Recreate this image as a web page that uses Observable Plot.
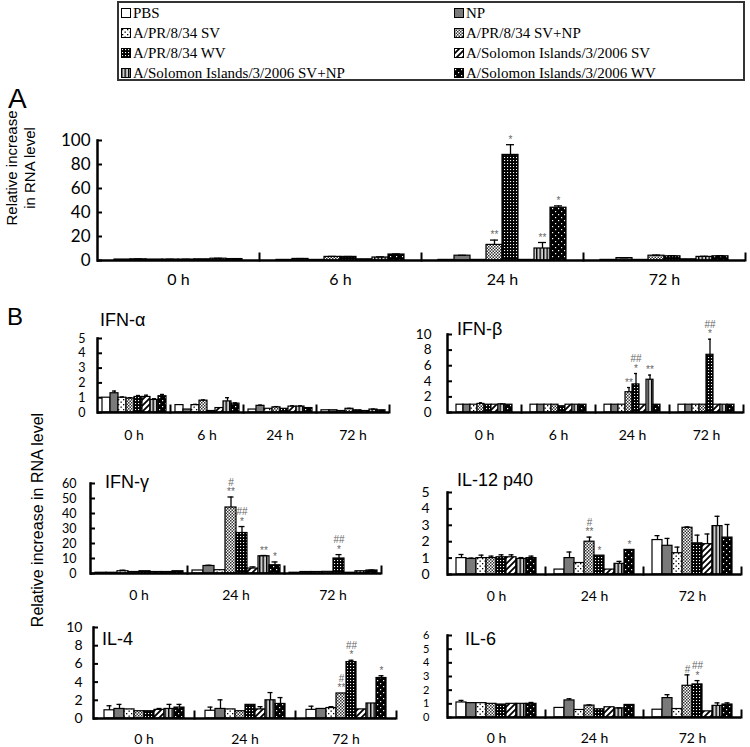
<!DOCTYPE html>
<html><head><meta charset="utf-8">
<script src="https://cdn.jsdelivr.net/npm/d3@7"></script>
<script src="https://cdn.jsdelivr.net/npm/@observablehq/plot@0.6"></script>
<style>
body{margin:0;background:#fff;}
#root{position:relative;width:750px;height:747px;overflow:hidden;font-family:"Liberation Sans",Arial,sans-serif;color:#000;}
.abs{position:absolute;line-height:1;white-space:nowrap;}
#legend{position:absolute;left:117px;top:1px;width:624px;height:76px;border:2px solid #333;font-family:"Liberation Serif","Times New Roman",serif;font-size:15px;}
.item{position:absolute;display:flex;align-items:center;height:20px;white-space:nowrap;}
.item svg{margin-right:2px;}
.rot{position:absolute;transform:translate(-50%,-50%) rotate(-90deg);text-align:center;white-space:nowrap;}
</style></head><body>
<svg width="0" height="0" style="position:absolute">
<defs>
<pattern id="p0" patternUnits="userSpaceOnUse" width="4" height="4"><rect width="4" height="4" fill="#fff"/></pattern>
<pattern id="p1" patternUnits="userSpaceOnUse" width="4" height="4"><rect width="4" height="4" fill="#7a7a7a"/></pattern>
<pattern id="p2" patternUnits="userSpaceOnUse" width="5" height="5"><rect width="5" height="5" fill="#fff"/><rect x="1" y="1" width="1.3" height="1.3" fill="#000"/><rect x="3.5" y="3.5" width="1.3" height="1.3" fill="#000"/></pattern>
<pattern id="p3" patternUnits="userSpaceOnUse" width="3" height="3"><rect width="3" height="3" fill="#fff"/><rect width="1.5" height="1.5" fill="#333"/><rect x="1.5" y="1.5" width="1.5" height="1.5" fill="#333"/></pattern>
<pattern id="p4" patternUnits="userSpaceOnUse" width="3" height="3"><rect width="3" height="3" fill="#000"/><rect x="1" y="1" width="1.1" height="1.1" fill="#fff"/></pattern>
<pattern id="p5" patternUnits="userSpaceOnUse" width="6" height="6"><rect width="6" height="6" fill="#fff"/><path d="M-1,7L7,-1M-1,1L1,-1M5,7L7,5" stroke="#000" stroke-width="1.8"/></pattern>
<pattern id="p6" patternUnits="userSpaceOnUse" width="3.5" height="4"><rect width="3.5" height="4" fill="#ccc"/><rect width="1.4" height="4" fill="#000"/></pattern>
<pattern id="p7" patternUnits="userSpaceOnUse" width="6" height="6"><rect width="6" height="6" fill="#000"/><rect x="1" y="1" width="1.2" height="1.2" fill="#fff"/><rect x="4" y="4" width="1.2" height="1.2" fill="#fff"/></pattern>
</defs></svg>
<div id="root"><div id="legend"></div></div>
<script>
// ---------- data ----------
const series = ["PBS","NP","A/PR/8/34 SV","A/PR/8/34 SV+NP","A/PR/8/34 WV",
  "A/Solomon Islands/3/2006 SV","A/Solomon Islands/3/2006 SV+NP","A/Solomon Islands/3/2006 WV"];
const patternFills = ["url(#p0)","url(#p1)","url(#p2)","url(#p3)","url(#p4)","url(#p5)","url(#p6)","url(#p7)"];

const times4 = ["0 h","6 h","24 h","72 h"];
const times3 = ["0 h","24 h","72 h"];

// Panel A
const aValues = [
  [0.8, 1, 0.8, 0.8, 0.8, 1, 1.5, 1.2],
  [0.5, 1.3, 0.5, 3, 3, 1, 2.5, 5],
  [0.5, 4, 0.5, 13, 88, 0.5, 10, 44],
  [0.5, 2, 0.5, 4, 3.5, 1, 3, 3.5]];
const aErrors = [
  [0, 0.2, 0, 0.2, 0.2, 0, 0.3, 0.2],
  [0, 0.3, 0, 0.4, 0.3, 0, 0.5, 0.4],
  [0, 0.3, 0, 4, 8.5, 0, 5, 1.5],
  [0, 0.3, 0, 0.5, 0.5, 0, 0.5, 0.5]];
const aMarks = [
  ["","","","","","","",""],["","","","","","","",""],
  ["","","","**","*","","**","*"],["","","","","","","",""]];
const aTicks = [0,20,40,60,80,100];

// IFN-α
const ifnaValues = [
  [1.0, 1.3, 1.0, 0.95, 1.05, 1.05, 0.85, 1.1],
  [0.5, 0.2, 0.5, 0.8, 0.1, 0.3, 0.75, 0.6],
  [0.2, 0.45, 0.25, 0.35, 0.25, 0.4, 0.4, 0.3],
  [0.15, 0.15, 0.1, 0.25, 0.15, 0.1, 0.2, 0.15]];
const ifnaErrors = [
  [0, 0.15, 0.05, 0.05, 0.1, 0.12, 0.08, 0.12],
  [0, 0, 0.05, 0.05, 0, 0, 0.25, 0.05],
  [0, 0.05, 0, 0.05, 0, 0.05, 0.05, 0],
  [0, 0, 0, 0.03, 0, 0, 0.03, 0]];
const ifnaTicks = [0,1,2,3,4,5];

// IFN-β
const ifnbValues = [
  [1, 1, 1, 1.1, 1, 1, 1.05, 1],
  [1, 1, 1, 1, 0.8, 1, 1, 1],
  [1, 1, 1, 2.6, 3.6, 1, 4.2, 1],
  [1, 1, 1, 1, 7.4, 1, 1, 1]];
const ifnbErrors = [
  [0, 0, 0, 0.15, 0, 0, 0.05, 0],
  [0, 0, 0, 0, 0, 0, 0, 0],
  [0, 0, 0, 0.6, 1.4, 0, 0.6, 0],
  [0, 0, 0, 0, 2, 0, 0, 0]];
const ifnbMarks = [
  ["","","","","","","",""],["","","","","","","",""],
  ["","","","**","##\n*","","**",""],["","","","","##\n*","","",""]];
const ifnbTicks = [0,2,4,6,8,10];

// IFN-γ
const ifngValues = [
  [0.5, 0.5, 1.5, 1, 1.5, 1, 1, 1.5],
  [2, 5, 2.2, 44, 27, 3.3, 11.5, 5.5],
  [0.5, 1, 1, 1.1, 10, 0.5, 1.5, 2]];
const ifngErrors = [
  [0, 0, 0.7, 0, 0, 0, 0, 0],
  [0, 0.5, 0, 7, 4.3, 1.1, 0.5, 2.2],
  [0, 0, 0, 0, 2.6, 0, 0, 0.3]];
const ifngMarks = [
  ["","","","","","","",""],
  ["","","","#\n**","##\n*","","**","*"],
  ["","","","","##\n*","","",""]];
const ifngTicks = [0,10,20,30,40,50,60];

// IL-12 p40
const il12Values = [
  [1.0, 0.95, 1.0, 1.0, 1.05, 1.05, 0.95, 1.0],
  [0.3, 1.0, 0.7, 2.0, 1.15, 0.3, 0.65, 1.5],
  [2.1, 1.75, 1.3, 2.85, 1.9, 1.85, 2.95, 2.25]];
const il12Errors = [
  [0.22, 0.05, 0.18, 0.12, 0.15, 0.15, 0.08, 0.12],
  [0, 0.37, 0, 0.28, 0, 0, 0.15, 0],
  [0.27, 0.45, 0.37, 0.05, 0.5, 0.62, 0.6, 0.8]];
const il12Marks = [
  ["","","","","","","",""],
  ["","","","#\n**","*","","","*"],
  ["","","","","","","",""]];
const il12Ticks = [0,1,2,3,4,5];

// IL-4
const il4Values = [
  [0.9, 1.05, 1.0, 0.8, 0.8, 0.95, 1.05, 1.2],
  [0.85, 1.05, 1.0, 0.8, 1.5, 1.0, 2.0, 1.6],
  [0.95, 1.05, 1.15, 2.75, 6.2, 1.0, 1.65, 4.45]];
const il4Errors = [
  [0.5, 0.5, 0, 0, 0, 0.15, 0.5, 0.35],
  [0.4, 1.0, 0, 0, 0, 0.3, 0.85, 0.7],
  [0.4, 0, 0.15, 0, 0.2, 0, 0, 0.25]];
const il4Marks = [
  ["","","","","","","",""],["","","","","","","",""],
  ["","","","#\n**","##\n*","","","*"]];
const il4Ticks = [0,2,4,6,8,10];

// IL-6
const il6Values = [
  [1.1, 1.05, 1.05, 1.0, 0.95, 1.0, 1.0, 1.0],
  [0.7, 1.25, 0.55, 0.87, 0.6, 0.75, 0.67, 0.92],
  [0.57, 1.42, 0.62, 2.32, 2.42, 0.45, 0.85, 0.95]];
const il6Errors = [
  [0.15, 0, 0, 0, 0, 0, 0, 0.1],
  [0, 0.12, 0, 0.05, 0, 0, 0.03, 0],
  [0, 0.25, 0, 0.8, 0.28, 0, 0.22, 0.12]];
const il6Marks = [
  ["","","","","","","",""],["","","","","","","",""],
  ["","","","#","##\n*","","",""]];
const il6Ticks = [0,1,2,3,4,5,6];

// ---------- drawing ----------
const root = document.getElementById("root");

function addText(txt, left, top, css) {
  const d = document.createElement("div");
  d.className = "abs";
  d.textContent = txt;
  d.style.left = left + "px"; d.style.top = top + "px";
  Object.assign(d.style, css || {});
  root.appendChild(d);
  return d;
}

function panel(cfg) {
  const data = [];
  cfg.times.forEach((t, ti) => series.forEach((s, si) => data.push({
    time: t, series: s, si, value: cfg.values[ti][si], err: cfg.errors[ti][si],
    mark: cfg.marks ? cfg.marks[ti][si] : ""
  })));
  const errData = data.filter(d => d.err > 0);
  const markData = data.filter(d => d.mark);
  const frameH = cfg.height - cfg.mT - cfg.mB;
  const chart = Plot.plot({
    width: cfg.width, height: cfg.height,
    marginLeft: cfg.mL, marginRight: cfg.mR, marginTop: cfg.mT, marginBottom: cfg.mB,
    style: {fontFamily: "Lato, sans-serif", fontSize: "14px", color: "#000", background: "transparent", overflow: "visible"},
    fx: {domain: cfg.times, padding: 0, label: null},
    x: {domain: series, paddingInner: 0, paddingOuter: cfg.padOuter, axis: null},
    y: {domain: [0, cfg.yMax]},
    color: {type: "identity"},
    marks: [
      Plot.barY(data, {fx: "time", x: "series", y: "value", fill: d => patternFills[d.si], stroke: "#000", strokeWidth: 1.2}),
      Plot.ruleX(errData, {fx: "time", x: "series", y1: "value", y2: d => d.value + d.err, stroke: "#000", strokeWidth: 1.3}),
      Plot.tickY(errData, {fx: "time", x: "series", y: d => d.value + d.err, stroke: "#000", strokeWidth: 1.3, insetLeft: cfg.cap, insetRight: cfg.cap}),
      Plot.text(markData, {fx: "time", x: "series", y: d => d.value + d.err, text: "mark", lineAnchor: "bottom", dy: -2, fontSize: 10, lineHeight: 0.95, fill: "#666", fontFamily: "Liberation Sans, Arial, sans-serif"}),
      Plot.ruleY([0], {stroke: "#000", strokeWidth: 2.5}),
      Plot.frame({anchor: "left", facetAnchor: "left", stroke: "#000", strokeWidth: 2.5}),
      Plot.frame({anchor: "right", insetTop: frameH - 7, stroke: "#000", strokeWidth: 2}),
      Plot.axisY({ticks: cfg.ticks, tickFormat: d => String(d), tickSize: -5, tickPadding: cfg.tickPad, label: null, strokeWidth: 2, fontSize: cfg.tickFont}),
      Plot.axisFx({anchor: "bottom", tickSize: 0, tickPadding: cfg.fxPad, label: null, fontSize: cfg.fxFont})
    ]
  });
  chart.style.position = "absolute";
  chart.style.left = cfg.left + "px";
  chart.style.top = cfg.top + "px";
  root.appendChild(chart);
}

panel({values: aValues, errors: aErrors, marks: aMarks, times: times4, ticks: aTicks, yMax: 100,
  left: 0, top: 120, width: 750, height: 175, mL: 95, mR: 4, mT: 20, mB: 35,
  padOuter: 0.8, cap: 4, tickPad: 12, tickFont: 17, fxPad: 13, fxFont: 16});
panel({values: ifnaValues, errors: ifnaErrors, times: times4, ticks: ifnaTicks, yMax: 5,
  left: 0, top: 318, width: 400, height: 129, mL: 95, mR: 10, mT: 20, mB: 35,
  padOuter: 0.34, cap: 2, tickPad: 17, tickFont: 12.5, fxPad: 18, fxFont: 14});
panel({values: ifnbValues, errors: ifnbErrors, marks: ifnbMarks, times: times4, ticks: ifnbTicks, yMax: 10,
  left: 375, top: 314, width: 375, height: 133, mL: 70, mR: 6, mT: 20, mB: 35,
  padOuter: 0.7, cap: 2, tickPad: 21, tickFont: 13.5, fxPad: 18, fxFont: 14});
panel({values: ifngValues, errors: ifngErrors, marks: ifngMarks, times: times3, ticks: ifngTicks, yMax: 60,
  left: 0, top: 463, width: 400, height: 145, mL: 89, mR: 18, mT: 20, mB: 35,
  padOuter: 0.32, cap: 2.5, tickPad: 19, tickFont: 12.5, fxPad: 17, fxFont: 14});
panel({values: il12Values, errors: il12Errors, marks: il12Marks, times: times3, ticks: il12Ticks, yMax: 5,
  left: 375, top: 472, width: 375, height: 137, mL: 71, mR: 8, mT: 20, mB: 35,
  padOuter: 0.65, cap: 2.5, tickPad: 23, tickFont: 14, fxPad: 17, fxFont: 14});
panel({values: il4Values, errors: il4Errors, marks: il4Marks, times: times3, ticks: il4Ticks, yMax: 10,
  left: 0, top: 607, width: 400, height: 140, mL: 93, mR: 4, mT: 20, mB: 29,
  padOuter: 0.6, cap: 2.5, tickPad: 16, tickFont: 14, fxPad: 16, fxFont: 14});
panel({values: il6Values, errors: il6Errors, marks: il6Marks, times: times3, ticks: il6Ticks, yMax: 6,
  left: 375, top: 615, width: 375, height: 132, mL: 71, mR: 8, mT: 20, mB: 30,
  padOuter: 0.65, cap: 2.5, tickPad: 23, tickFont: 11, fxPad: 16, fxFont: 14});

// panel letters, titles, y labels
addText("A", 8, 85, {fontFamily: "'Liberation Sans Narrow', 'Liberation Sans', sans-serif", fontSize: "28px"});
addText("B", 7, 305, {fontSize: "24px"});
const titles = [["IFN-α", 100, 311], ["IFN-β", 457, 320], ["IFN-γ", 105, 473],
  ["IL-12 p40", 457, 471], ["IL-4", 102, 630], ["IL-6", 465, 630]];
titles.forEach(([t, x, y]) => addText(t, x, y, {fontSize: "18px"}));

const yl1 = document.createElement("div");
yl1.className = "rot";
yl1.style.left = "21px"; yl1.style.top = "168px"; yl1.style.fontSize = "15px"; yl1.style.lineHeight = "1.2";
yl1.innerHTML = "Relative increase<br>in RNA level";
root.appendChild(yl1);
const yl2 = document.createElement("div");
yl2.className = "rot";
yl2.style.left = "38px"; yl2.style.top = "520px"; yl2.style.fontSize = "16px";
yl2.textContent = "Relative increase in RNA level";
root.appendChild(yl2);

// legend
const legend = document.getElementById("legend");
series.forEach((s, i) => {
  const col = i % 2, row = Math.floor(i / 2);
  const it = document.createElement("div");
  it.className = "item";
  it.style.left = (col ? 335 : 2) + "px";
  it.style.top = (row * 20) + "px";
  it.innerHTML = `<svg width="10" height="10"><rect x="0.5" y="0.5" width="9" height="9" fill="${patternFills[i]}" stroke="#000" stroke-width="1"/></svg>`;
  const sp = document.createElement("span");
  sp.textContent = s;
  it.appendChild(sp);
  legend.appendChild(it);
});
</script>
</body></html>
